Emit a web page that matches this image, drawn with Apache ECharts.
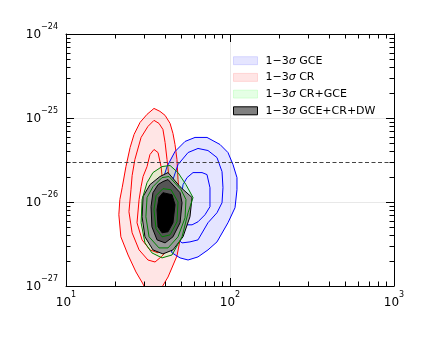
<!DOCTYPE html>
<html><head><meta charset="utf-8">
<script src="https://cdn.jsdelivr.net/npm/echarts@6/dist/echarts.min.js"></script>
<style>html,body{margin:0;padding:0;background:#fff}#c{width:438px;height:337px}</style>
</head><body><div id="c"></div>
<script>
// ---- data (mass in GeV, <sigma v> in cm^3/s) ----
const legendNames = ['GCE', 'CR', 'CR+GCE', 'GCE+CR+DW'];
const xTickExponents = [1, 2, 3];
const yTickExponents = [-27, -26, -25, -24];
const xMinorTicks = [20,30,40,50,60,70,80,90,200,300,400,500,600,700,800,900];
const yMinorTicks = [2e-27,3e-27,4e-27,5e-27,6e-27,7e-27,8e-27,9e-27,
                     2e-26,3e-26,4e-26,5e-26,6e-26,7e-26,8e-26,9e-26,
                     2e-25,3e-25,4e-25,5e-25,6e-25,7e-25,8e-25,9e-25];
const dashedLevel = 3.0e-26;

const redOuter = [[34.4,1.30e-25],[37.4,1.20e-25],[40.2,1.075e-25],[43.1,8.63e-26],[44.9,6.55e-26],[46.2,4.84e-26],[47.5,3.20e-26],[48.2,1.85e-26],[49.6,9.28e-27],[50.3,5.35e-27],[49.6,3.54e-27],[47.5,2.28e-27],[41.9,1.28e-27],[38.5,9.72e-28],[35.9,7.80e-28],[31.6,7.80e-28],[29.5,1.055e-27],[26.7,1.47e-27],[23.9,2.34e-27],[21.6,3.85e-27],[21.0,7.05e-27],[21.3,1.07e-26],[22.0,1.48e-26],[23.2,2.64e-26],[24.6,4.46e-26],[26.0,6.37e-26],[28.3,8.87e-26],[31.2,1.105e-25]];
const redMid = [[34.4,9.37e-26],[36.9,8.63e-26],[39.0,7.31e-26],[40.2,5.11e-26],[41.3,3.20e-26],[42.5,1.95e-26],[43.7,1.07e-26],[43.7,5.35e-27],[42.5,3.26e-27],[40.2,2.48e-27],[38.0,2.22e-27],[34.9,1.93e-27],[31.6,2.04e-27],[27.9,2.69e-27],[25.3,4.30e-27],[24.2,7.66e-27],[24.9,1.40e-26],[25.3,2.06e-26],[26.3,3.20e-26],[28.7,5.87e-26],[31.6,7.94e-26]];
const redInner = [[34.4,4.22e-26],[36.4,3.88e-26],[38.0,2.64e-26],[39.0,1.61e-26],[40.2,8.09e-27],[40.2,4.30e-27],[38.5,2.77e-27],[36.4,2.48e-27],[32.5,2.69e-27],[29.1,3.54e-27],[27.1,5.66e-27],[27.9,1.07e-26],[28.7,1.52e-26],[29.5,2.01e-26],[31.2,2.64e-26],[32.5,3.67e-26]];

const blueOuter = [[72.4,5.87e-26],[86.9,4.84e-26],[97.2,3.88e-26],[104.3,2.79e-26],[110.3,1.95e-26],[110.3,1.40e-26],[107.3,8.55e-27],[97.2,5.66e-27],[83.3,3.35e-27],[73.4,2.69e-27],[63.8,2.22e-27],[55.5,2.04e-27],[49.6,2.16e-27],[44.3,2.48e-27],[41.9,3.54e-27],[40.2,6.14e-27],[39.0,1.07e-26],[39.0,1.85e-26],[41.3,2.64e-26],[46.2,3.99e-26],[53.2,5.26e-26],[61.2,5.87e-26]];
const blueMid = [[48.2,2.79e-26],[55.5,3.88e-26],[63.8,4.34e-26],[73.4,4.10e-26],[83.3,3.38e-26],[89.4,2.30e-26],[90.6,1.48e-26],[89.4,9.8e-27],[83.3,7.45e-27],[73.4,5.66e-27],[63.8,3.54e-27],[57.0,3.35e-27],[51.0,3.26e-27],[46.8,3.75e-27],[44.3,6.14e-27],[43.7,1.07e-26],[44.9,1.85e-26]];
const blueInner = [[54.7,1.95e-26],[59.5,2.24e-26],[67.5,2.24e-26],[72.4,2.12e-26],[75.5,1.48e-26],[75.5,8.79e-27],[70.4,7.05e-27],[63.8,5.81e-27],[58.7,5.35e-27],[53.9,5.35e-27],[51.0,7.05e-27],[50.3,1.07e-26],[51.7,1.61e-26]];

const greenOuter = [[38.5,2.64e-26],[43.1,2.72e-26],[48.2,2.24e-26],[53.9,1.61e-26],[59.5,1.13e-26],[55.5,7.45e-27],[51.0,3.85e-27],[44.3,2.34e-27],[38.5,2.16e-27],[33.4,2.48e-27],[30.3,3.26e-27],[28.7,5.66e-27],[29.1,1.07e-26],[31.2,1.70e-26],[33.9,2.24e-26]];
const greenMid = [[38.5,1.95e-26],[42.5,2.01e-26],[50.3,1.40e-26],[53.9,1.07e-26],[53.2,6.49e-27],[48.2,3.85e-27],[41.9,2.84e-27],[36.9,2.84e-27],[32.1,3.85e-27],[30.7,6.67e-27],[31.2,1.13e-26],[33.9,1.52e-26]];
const greenInner = [[39.0,1.44e-26],[43.7,1.40e-26],[48.2,1.0e-26],[47.5,5.81e-27],[43.1,4.06e-27],[38.5,3.85e-27],[35.4,4.80e-27],[34.4,8.09e-27],[35.4,1.19e-26]];

const grayOuter = [[37.4,2.01e-26],[41.9,2.24e-26],[49.6,1.52e-26],[58.7,1.13e-26],[57.0,6.67e-27],[51.7,3.85e-27],[44.9,2.69e-27],[39.0,2.41e-27],[33.9,2.69e-27],[30.3,3.85e-27],[29.1,6.67e-27],[29.5,1.16e-26],[32.5,1.61e-26]];
const grayMid = [[39.0,1.75e-26],[41.9,1.85e-26],[49.6,1.29e-26],[51.0,9.8e-27],[49.6,5.66e-27],[44.9,3.85e-27],[40.2,3.26e-27],[35.9,3.54e-27],[33.4,5.07e-27],[33.0,8.79e-27],[33.9,1.29e-26],[36.4,1.61e-26]];
const grayInner = [[39.0,1.29e-26],[44.3,1.22e-26],[46.2,9.28e-27],[44.9,5.66e-27],[41.9,4.42e-27],[38.5,4.30e-27],[36.4,5.07e-27],[35.9,8.09e-27],[36.9,1.13e-26]];

// The y axis is plotted in units of 1e-26 cm^3/s to avoid floating-point rounding of tiny values.
const Y_UNIT_EXP = -26;
const Y_UNIT = Math.pow(10, Y_UNIT_EXP);
const toPlot = pts => pts.map(p => [p[0], p[1] / Y_UNIT]);

// ---- styling ----
const FONT = 'DejaVu Sans';
const BLUE = '#0000ff', RED = '#ff0000', GREEN = '#008000';
const BLUE_FILL = 'rgba(0,0,255,0.1)', RED_FILL = 'rgba(255,0,0,0.1)', GREEN_FILL = 'rgba(0,255,0,0.1)';

function poly(name, raw, style) {
  const pts = toPlot(raw);
  return {
    type: 'custom', name: name, coordinateSystem: 'cartesian2d',
    xAxisIndex: 0, yAxisIndex: 0, clip: true, silent: true,
    data: pts, encode: { x: 0, y: 1 },
    renderItem: function (params, api) {
      if (params.dataIndex !== 0) return null;
      return { type: 'polygon', shape: { points: pts.map(p => api.coord(p)) },
               style: Object.assign({ fill: 'none', stroke: 'none', lineWidth: 1 }, style) };
    }
  };
}
function expText(e) { return e < 0 ? '\u2212' + Math.abs(e) : String(e); }
const xLabel = v => '{b|10}{s|' + expText(Math.round(Math.log10(v))) + '}';
const yLabel = v => '{b|10}{s|' + expText(Math.round(Math.log10(v)) + Y_UNIT_EXP) + '}';
const labelRich = {
  b: { fontFamily: FONT, fontSize: 12, lineHeight: 13, color: '#000', verticalAlign: 'bottom' },
  s: { fontFamily: FONT, fontSize: 8, lineHeight: 9, color: '#000', verticalAlign: 'bottom', padding: [0, 0, 10, 0] }
};

const minorTickSeriesX = {
  type: 'custom', coordinateSystem: 'cartesian2d', xAxisIndex: 0, yAxisIndex: 0, silent: true, z: 5,
  data: xMinorTicks.map(v => [v, 1]), encode: { x: 0, y: 1 },
  renderItem: function (params, api) {
    const cs = params.coordSys;
    const x = Math.round(api.coord([api.value(0), 1])[0]) + 0.5;
    const st = { stroke: '#000', lineWidth: 1 };
    return { type: 'group', children: [
      { type: 'line', shape: { x1: x, y1: cs.y + cs.height, x2: x, y2: cs.y + cs.height - 4.5 }, style: st },
      { type: 'line', shape: { x1: x, y1: cs.y, x2: x, y2: cs.y + 4.5 }, style: st }
    ] };
  }
};
const minorTickSeriesY = {
  type: 'custom', coordinateSystem: 'cartesian2d', xAxisIndex: 0, yAxisIndex: 0, silent: true, z: 5,
  data: yMinorTicks.map(v => [100, v / Y_UNIT]), encode: { x: 0, y: 1 },
  renderItem: function (params, api) {
    const cs = params.coordSys;
    const y = Math.round(api.coord([100, api.value(1)])[1]) + 0.5;
    const st = { stroke: '#000', lineWidth: 1 };
    return { type: 'group', children: [
      { type: 'line', shape: { x1: cs.x, y1: y, x2: cs.x + 4.5, y2: y }, style: st },
      { type: 'line', shape: { x1: cs.x + cs.width, y1: y, x2: cs.x + cs.width - 4.5, y2: y }, style: st }
    ] };
  }
};

const axisCommon = {
  type: 'log', logBase: 10,
  axisLine: { show: true, onZero: false, lineStyle: { color: '#000', width: 1 } },
  axisTick: { show: true, inside: true, length: 8, lineStyle: { color: '#000', width: 1 } },
  minorTick: { show: false }
};

const series = [
  poly('CR', redOuter, { fill: RED_FILL }),
  poly('GCE', blueOuter, { fill: BLUE_FILL }),
  poly('CR', redOuter, { stroke: RED }),
  poly('CR', redMid, { stroke: RED }),
  poly('CR', redInner, { stroke: RED }),
  poly('GCE', blueOuter, { stroke: BLUE }),
  poly('GCE', blueMid, { stroke: BLUE }),
  poly('GCE', blueInner, { stroke: BLUE }),
  poly('CR+GCE', greenOuter, { fill: GREEN_FILL }),
  poly('GCE+CR+DW', grayOuter, { fill: '#999999', stroke: '#000' }),
  poly('GCE+CR+DW', grayMid, { fill: '#555555', stroke: '#000' }),
  poly('GCE+CR+DW', grayInner, { fill: '#000000', stroke: '#000' }),
  poly('CR+GCE', greenOuter, { stroke: GREEN }),
  poly('CR+GCE', greenMid, { stroke: GREEN }),
  poly('CR+GCE', greenInner, { stroke: GREEN }),
  minorTickSeriesX,
  minorTickSeriesY
];
series[14].markLine = {
  silent: true, symbol: 'none', animation: false,
  label: { show: false },
  lineStyle: { color: '#444', width: 1.2, type: [4, 2.5] },
  data: [{ yAxis: dashedLevel / Y_UNIT }]
};

const legendStyles = {
  'GCE': { color: BLUE_FILL, borderColor: 'rgba(0,0,255,0.12)', borderWidth: 1 },
  'CR': { color: RED_FILL, borderColor: 'rgba(255,0,0,0.12)', borderWidth: 1 },
  'CR+GCE': { color: GREEN_FILL, borderColor: 'rgba(0,255,0,0.12)', borderWidth: 1 },
  'GCE+CR+DW': { color: '#808080', borderColor: '#000', borderWidth: 1 }
};

const xMin = Math.pow(10, xTickExponents[0]), xMax = Math.pow(10, xTickExponents[xTickExponents.length - 1]);
const yMin = Math.pow(10, yTickExponents[0] - Y_UNIT_EXP), yMax = Math.pow(10, yTickExponents[yTickExponents.length - 1] - Y_UNIT_EXP);

const chart = echarts.init(document.getElementById('c'), null, { renderer: 'canvas' });
chart.setOption({
  animation: false,
  backgroundColor: '#fff',
  grid: { left: 66, right: 44, top: 34, bottom: 51, containLabel: false, outerBoundsMode: 'none' },
  xAxis: [
    Object.assign({}, axisCommon, {
      position: 'bottom', min: xMin, max: xMax,
      axisLabel: { formatter: xLabel, rich: labelRich, margin: 10, showMinLabel: true, showMaxLabel: true },
      splitLine: { show: true, lineStyle: { color: '#e8e8e8', width: 1 } }
    }),
    Object.assign({}, axisCommon, {
      position: 'top', min: xMin, max: xMax,
      axisLabel: { show: false }, splitLine: { show: false }
    })
  ],
  yAxis: [
    Object.assign({}, axisCommon, {
      position: 'left', min: yMin, max: yMax,
      axisLabel: { formatter: yLabel, rich: labelRich, margin: 8, showMinLabel: true, showMaxLabel: true },
      splitLine: { show: true, lineStyle: { color: '#e8e8e8', width: 1 } }
    }),
    Object.assign({}, axisCommon, {
      position: 'right', min: yMin, max: yMax,
      axisLabel: { show: false }, splitLine: { show: false }
    })
  ],
  legend: {
    orient: 'vertical', left: 233, top: 53.7, padding: 0,
    itemWidth: 24, itemHeight: 8, itemGap: 2.7,
    icon: 'rect', selectedMode: false,
    data: legendNames.map(n => ({ name: n, icon: 'rect', itemStyle: legendStyles[n] })),
    formatter: n => '1\u22123{i|\u03c3} ' + n,
    textStyle: {
      fontFamily: FONT, fontSize: 11, lineHeight: 14, color: '#000', padding: [0, 0, 0, 3],
      rich: { i: { fontFamily: FONT, fontSize: 11, fontStyle: 'italic', color: '#000' } }
    }
  },
  series: series
});
</script>
</body></html>
